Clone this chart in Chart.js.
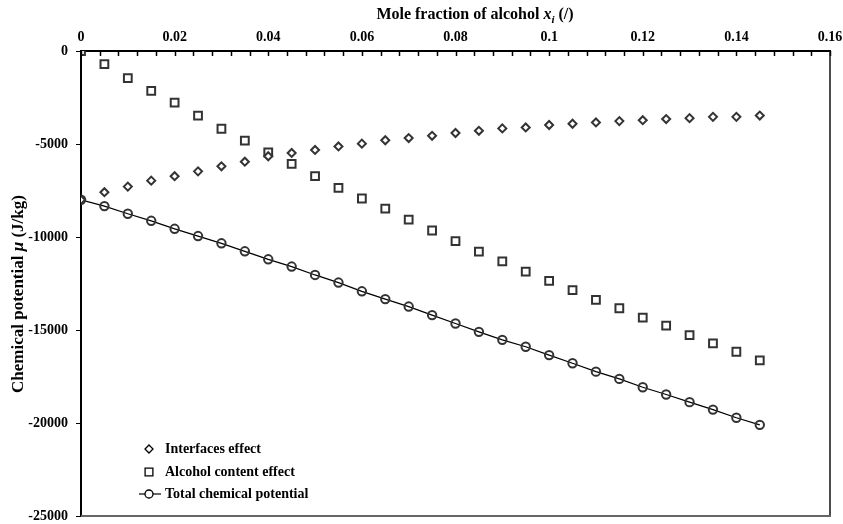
<!DOCTYPE html>
<html><head><meta charset="utf-8">
<script src="https://cdn.jsdelivr.net/npm/chart.js@4.4.0/dist/chart.umd.min.js"></script>
<style>html,body{margin:0;padding:0;background:#fff}#wrap{width:843px;height:524px;position:relative}</style>
</head><body><div id="wrap"><canvas id="c" width="843" height="524"></canvas></div>
<script>
// ---- data ----
const xValues = [0,0.005,0.01,0.015,0.02,0.025,0.03,0.035,0.04,0.045,0.05,0.055,0.06,0.065,0.07,0.075,0.08,0.085,0.09,0.095,0.1,0.105,0.11,0.115,0.12,0.125,0.13,0.135,0.14,0.145];
const interfacesEffect = [-8000,-7590,-7290,-6970,-6730,-6470,-6200,-5950,-5660,-5480,-5320,-5130,-4980,-4800,-4680,-4560,-4410,-4290,-4160,-4110,-3980,-3910,-3840,-3770,-3720,-3660,-3610,-3540,-3540,-3470];
const alcoholContentEffect = [0,-700,-1460,-2140,-2770,-3480,-4180,-4820,-5450,-6070,-6730,-7360,-7930,-8480,-9070,-9650,-10220,-10790,-11310,-11860,-12360,-12860,-13380,-13830,-14330,-14770,-15270,-15720,-16170,-16630];
const totalChemicalPotential = [-8000,-8340,-8750,-9130,-9560,-9950,-10340,-10770,-11200,-11590,-12040,-12450,-12920,-13340,-13740,-14200,-14650,-15100,-15530,-15900,-16350,-16790,-17240,-17630,-18080,-18470,-18880,-19280,-19720,-20100];
const seriesNames = ['Interfaces effect','Alcohol content effect','Total chemical potential'];
const xMin = 0, xMax = 0.16, xMajorStep = 0.02, xMinorStep = 0.004;
const yMin = -25000, yMax = 0, yStep = 5000;

const FONT = '"Liberation Serif","Times New Roman",serif';
const MARK = '#333';
const pts = ys => xValues.map((x,i)=>({x, y: ys[i]}));

function drawMarker(ctx, style, x, y, r) {
  ctx.beginPath();
  if (style === 'rectRot') {
    ctx.moveTo(x, y - r); ctx.lineTo(x + r, y); ctx.lineTo(x, y + r); ctx.lineTo(x - r, y); ctx.closePath();
  } else if (style === 'rect') {
    const s = r * Math.SQRT1_2;
    ctx.rect(x - s, y - s, 2*s, 2*s);
  } else {
    ctx.arc(x, y, r, 0, Math.PI*2);
  }
  ctx.fillStyle = '#fff'; ctx.fill();
  ctx.stroke();
}

const decorPlugin = {
  id: 'decor',
  afterDraw(chart) {
    const ctx = chart.ctx, a = chart.chartArea, xs = chart.scales.x;
    ctx.save();
    // inward ticks on top axis
    ctx.strokeStyle = '#000'; ctx.lineWidth = 1.5;
    xs.ticks.forEach(t => {
      const px = Math.round(xs.getPixelForValue(t.value)) + 0.5;
      ctx.beginPath(); ctx.moveTo(px, a.top); ctx.lineTo(px, a.top + 5); ctx.stroke();
    });
    // right and bottom frame
    ctx.strokeStyle = '#111'; ctx.lineWidth = 1.5;
    ctx.beginPath(); ctx.moveTo(a.right, a.top); ctx.lineTo(a.right, a.bottom); ctx.stroke();
    ctx.strokeStyle = '#666'; ctx.lineWidth = 2;
    ctx.beginPath(); ctx.moveTo(a.left, a.bottom); ctx.lineTo(a.right + 1, a.bottom); ctx.stroke();

    // x title with italic x_i
    const parts = [
      {t:'Mole fraction of alcohol ', f:'bold 16px '+FONT, dy:0},
      {t:'x', f:'italic bold 16px '+FONT, dy:0},
      {t:'i', f:'italic bold 11px '+FONT, dy:4},
      {t:' (/)', f:'bold 16px '+FONT, dy:0}
    ];
    ctx.fillStyle = '#000'; ctx.textBaseline = 'alphabetic'; ctx.textAlign = 'left';
    let w = 0; parts.forEach(p => { ctx.font = p.f; p.w = ctx.measureText(p.t).width; w += p.w; });
    let x0 = 475 - w/2;
    parts.forEach(p => { ctx.font = p.f; ctx.fillText(p.t, x0, 19 + p.dy); x0 += p.w; });

    // y title rotated with italic mu
    const yparts = [
      {t:'Chemical potential ', f:'bold 17px '+FONT},
      {t:'\u03BC', f:'italic bold 17px '+FONT},
      {t:' (J/kg)', f:'bold 17px '+FONT}
    ];
    ctx.save();
    ctx.translate(23, 294); ctx.rotate(-Math.PI/2);
    w = 0; yparts.forEach(p => { ctx.font = p.f; p.w = ctx.measureText(p.t).width; w += p.w; });
    x0 = -w/2;
    yparts.forEach(p => { ctx.font = p.f; ctx.fillText(p.t, x0, 0); x0 += p.w; });
    ctx.restore();

    // legend
    const rows = [
      {name: seriesNames[0], style:'rectRot', r:4, line:false, y:449},
      {name: seriesNames[1], style:'rect', r:5.5, line:false, y:472},
      {name: seriesNames[2], style:'circle', r:4, line:true, y:494}
    ];
    rows.forEach(row => {
      if (row.line) {
        ctx.strokeStyle = '#000'; ctx.lineWidth = 1.2;
        ctx.beginPath(); ctx.moveTo(139, row.y); ctx.lineTo(161, row.y); ctx.stroke();
      }
      ctx.strokeStyle = '#000'; ctx.lineWidth = 1.3;
      drawMarker(ctx, row.style, 149, row.y, row.r);
      ctx.fillStyle = '#000'; ctx.font = 'bold 14px ' + FONT; ctx.textBaseline = 'middle';
      ctx.fillText(row.name, 165, row.y);
    });
    ctx.restore();
  }
};

new Chart(document.getElementById('c'), {
  type: 'scatter',
  data: {
    datasets: [
      {label: seriesNames[0], data: pts(interfacesEffect), pointStyle:'rectRot', pointRadius:4, pointBorderWidth:2, pointBorderColor:MARK, pointBackgroundColor:'#fff', showLine:false},
      {label: seriesNames[1], data: pts(alcoholContentEffect), pointStyle:'rect', pointRadius:5.5, pointBorderWidth:2, pointBorderColor:MARK, pointBackgroundColor:'#fff', showLine:false},
      {label: seriesNames[2], data: pts(totalChemicalPotential), pointStyle:'circle', pointRadius:4.2, pointBorderWidth:2, pointBorderColor:MARK, pointBackgroundColor:'rgba(0,0,0,0)', showLine:true, borderColor:'#000', borderWidth:1.2, tension:0}
    ]
  },
  options: {
    responsive: false,
    animation: false,
    layout: {padding: {left: 0, right: 13, top: 0, bottom: 8}},
    plugins: {legend: {display:false}, tooltip: {enabled:false}},
    scales: {
      x: {
        type: 'linear', position: 'top', min: xMin, max: xMax,
        afterFit: s => { s.height = 51; s.paddingLeft = 0; s.paddingRight = 0; },
        afterBuildTicks: s => {
          const t = []; const n = Math.round((xMax - xMin)/xMinorStep);
          for (let i = 0; i <= n; i++) t.push({value: +(xMin + i*xMinorStep).toFixed(4)});
          s.ticks = t;
        },
        ticks: {
          autoSkip: false, maxRotation: 0, padding: 5, color: '#000',
          font: {family: FONT, size: 14, weight: 'bold'},
          callback: v => {
            const k = v / xMajorStep;
            if (Math.abs(k - Math.round(k)) > 1e-6) return '';
            return v === 0 ? '0' : String(+v.toFixed(2));
          }
        },
        grid: {display: false, drawTicks: false},
        border: {display: true, color: '#000', width: 2}
      },
      y: {
        type: 'linear', min: yMin, max: yMax,
        afterFit: s => { s.width = 81; s.paddingTop = 0; s.paddingBottom = 0; },
        ticks: {stepSize: yStep, padding: 8, color:'#000', font: {family: FONT, size: 14, weight: 'bold'}, callback: v => String(v)},
        grid: {drawOnChartArea: false, drawTicks: true, tickLength: 5, color: '#000', lineWidth: 1},
        border: {display: true, color: '#000', width: 2}
      }
    }
  },
  plugins: [decorPlugin]
});
</script>
</body></html>
